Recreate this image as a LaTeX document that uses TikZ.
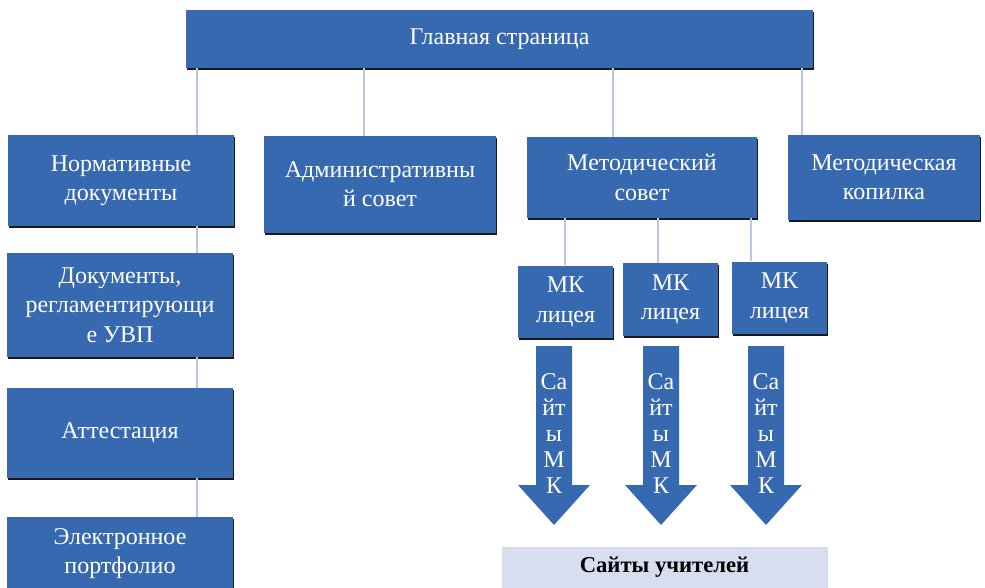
\documentclass[tikz,border=0pt]{standalone}
\usepackage{fontspec}
\setmainfont{Liberation Serif}
\usetikzlibrary{shadows}
\definecolor{boxblue}{RGB}{55,105,177}
\definecolor{linkblue}{RGB}{183,199,228}
\definecolor{sitefill}{RGB}{216,222,240}
\begin{document}
\begin{tikzpicture}[x=0.75pt, y=-0.75pt,
    blk/.style={fill=boxblue, text=white, align=center, inner sep=0pt,
      font=\fontsize{18}{22}\selectfont,
      drop shadow={shadow xshift=0.4pt, shadow yshift=-1.4pt, fill=black, opacity=0.9}},
    link/.style={draw=linkblue, line width=1.6pt},
    arrtext/.style={text=white, align=center, inner sep=0pt, font=\fontsize{18}{19.5}\selectfont}]
    \useasboundingbox (0,0) rectangle (985,587);

    % top level
    \node[blk, minimum width=470.25pt, minimum height=43.5pt] (main) at (499.5,39) {Главная страница};

    % second level
    \node[blk, minimum width=169.5pt, minimum height=68.25pt] (norm) at (121,180.5) {Нормативные\\документы};
    \node[blk, minimum width=174pt, minimum height=72.75pt] (admin) at (380,184.5) {Административны\\й совет};
    \node[blk, minimum width=172.5pt, minimum height=60.75pt] (metsov) at (642,177.5) {Методический\\совет};
    \node[blk, minimum width=144pt, minimum height=63.75pt] (kop) at (884,177.5) {Методическая\\копилка};

    % left column
    \node[blk, minimum width=169.5pt, minimum height=78pt] (doc) at (120,305) {Документы,\\регламентирующи\\е УВП};
    \node[blk, minimum width=169.5pt, minimum height=67.5pt] (att) at (120,433) {Аттестация};
    \node[blk, minimum width=169.5pt, minimum height=54.75pt] (port) at (120,553.5) {Электронное\\портфолио};

    % MK boxes
    \node[blk, minimum width=71.25pt, minimum height=54.5pt] (mk1) at (565.5,302) {МК\\лицея};
    \node[blk, minimum width=71.25pt, minimum height=54.5pt] (mk2) at (670.5,299.5) {МК\\лицея};
    \node[blk, minimum width=71.25pt, minimum height=54.5pt] (mk3) at (779.5,298) {МК\\лицея};

    \node[fill=sitefill, draw=black!15, minimum width=243.75pt, minimum height=30.75pt, inner sep=0pt,
      font=\fontsize{17}{20}\selectfont\bfseries] (sites) at (664.5,567.5) {Сайты учителей};

    % connectors
    \draw[link] (main.south -| 197,0) -- (norm.north -| 197,0);
    \draw[link] (main.south -| 364,0) -- (admin.north -| 364,0);
    \draw[link] (main.south -| 613,0) -- (metsov.north -| 613,0);
    \draw[link] (main.south -| 802,0) -- (kop.north -| 802,0);
    \draw[link] (norm.south -| 197,0) -- (doc.north -| 197,0);
    \draw[link] (doc.south -| 197,0) -- (att.north -| 197,0);
    \draw[link] (att.south -| 197,0) -- (port.north -| 197,0);
    \draw[link] (metsov.south -| 565,0) -- (mk1.north -| 565,0);
    \draw[link] (metsov.south -| 658,0) -- (mk2.north -| 658,0);
    \draw[link] (metsov.south -| 751,0) -- (mk3.north -| 751,0);

    % block arrows
    \foreach \ax/\n in {554/1, 661/2, 766/3} {
      \fill[boxblue] (\ax-18,346) -- (\ax+18,346) -- (\ax+18,485) -- (\ax+36,485)
        -- (\ax,525) -- (\ax-36,485) -- (\ax-18,485) -- cycle;
      \node[arrtext] (sm\n) at (\ax,434) {Са\\йт\\ы\\М\\К};
    }
\end{tikzpicture}
\end{document}
